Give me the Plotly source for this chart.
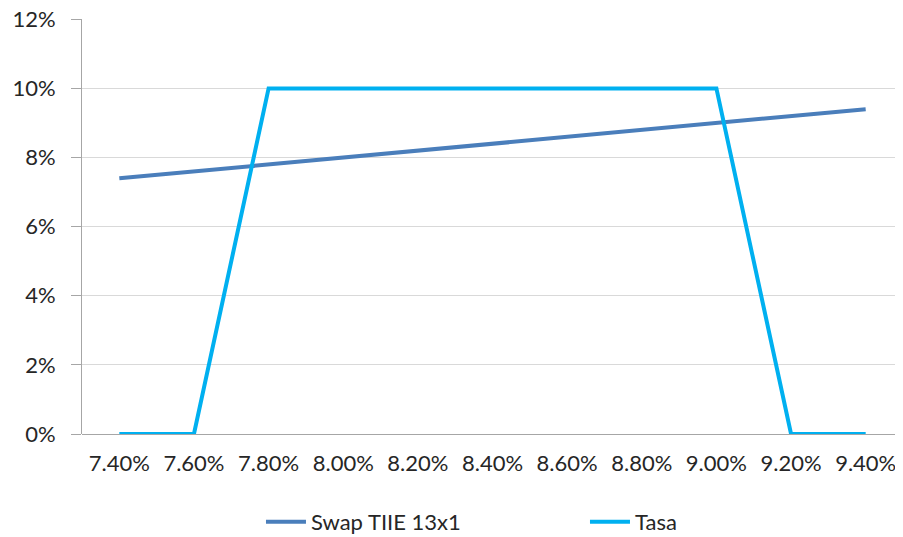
import plotly.graph_objects as go

categories = ["7.40%", "7.60%", "7.80%", "8.00%", "8.20%", "8.40%",
              "8.60%", "8.80%", "9.00%", "9.20%", "9.40%"]
swap_values = [0.074, 0.076, 0.078, 0.080, 0.082, 0.084,
               0.086, 0.088, 0.090, 0.092, 0.094]
tasa_values = [0.0, 0.0, 0.10, 0.10, 0.10, 0.10, 0.10, 0.10, 0.10, 0.0, 0.0]
y_ticks = [0, 0.02, 0.04, 0.06, 0.08, 0.10, 0.12]

font_family = "Lato, 'Open Sans', sans-serif"

fig = go.Figure()
fig.add_trace(go.Scatter(x=categories, y=swap_values, mode="lines",
                         name="Swap TIIE 13x1",
                         line=dict(color="#4A7EBB", width=4)))
fig.add_trace(go.Scatter(x=categories, y=tasa_values, mode="lines",
                         name="Tasa",
                         line=dict(color="#00B0F0", width=4)))

fig.update_layout(
    width=895, height=529,
    margin=dict(l=74, r=0, t=11, b=103, autoexpand=False),
    paper_bgcolor="white", plot_bgcolor="white",
    font=dict(family=font_family, size=22, color="#262626"),
    showlegend=True,
    legend=dict(orientation="h", x=0.218, xanchor="left",
                y=-0.212, yanchor="middle",
                font=dict(size=22, color="#262626"),
                entrywidth=269, entrywidthmode="pixels",
                itemwidth=40, tracegroupgap=0),
    xaxis=dict(type="category", range=[-0.5, 10.5], automargin=False,
               showgrid=False, showline=False,
               ticks="", zeroline=False, ticklabelstandoff=14,
               ticklabeloverflow="allow",
               tickfont=dict(size=22)),
    yaxis=dict(range=[0, 0.1201], tickvals=y_ticks, tickformat=".0%",
               automargin=False, ticklabeloverflow="allow",
               showgrid=True, gridcolor="#D9D9D9", gridwidth=1,
               showline=True, linecolor="#A6A6A6", linewidth=1,
               ticks="outside", ticklen=10, tickcolor="#A6A6A6",
               ticklabelstandoff=11,
               zeroline=True, zerolinecolor="#A6A6A6", zerolinewidth=1,
               tickfont=dict(size=22)),
)

fig.write_html("out.html")
